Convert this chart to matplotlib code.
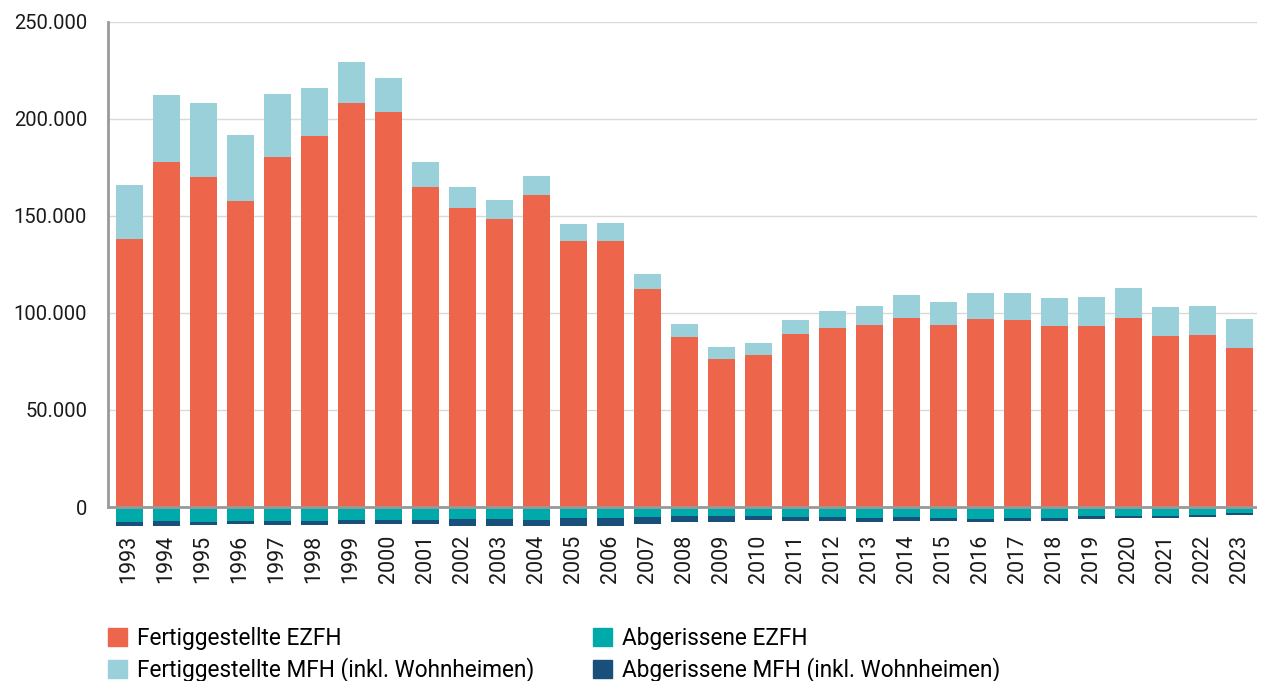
import numpy as np
import matplotlib.pyplot as plt
from matplotlib.patches import Patch
from matplotlib.ticker import FuncFormatter

plt.rcParams['font.family'] = ['Roboto', 'DejaVu Sans']

years = list(range(1993, 2024))
# completed buildings (stacked above zero), in thousands
fert_ezfh = [138, 177.8, 170, 157.7, 180.4, 191.2, 208.2, 203.6, 165, 154.1,
             148.5, 160.8, 137.1, 137.1, 112.4, 87.6, 76.3, 78.4, 89.2, 92.3,
             93.8, 97.4, 93.8, 96.9, 96.4, 93.3, 93.3, 97.4, 88.1, 88.7, 82]
fert_total = [166, 212.4, 208, 191.8, 212.9, 216, 229.4, 221.1, 177.8, 165,
              158.2, 170.6, 145.9, 146.4, 120.1, 94.3, 82.5, 84.5, 96.4, 101,
              103.6, 109.3, 105.7, 110.3, 110.3, 107.7, 108.2, 112.9, 103.1, 103.6, 96.9]
fert_mfh = [t - e for t, e in zip(fert_total, fert_ezfh)]
# demolished buildings (stacked below zero), in thousands
abg_ezfh = [7.9, 7.4, 7.6, 7.0, 7.0, 7.0, 6.5, 6.5, 6.5, 6.0,
            6.0, 6.5, 5.5, 5.5, 5.0, 4.5, 4.5, 4.5, 5.0, 5.0,
            5.5, 5.0, 5.5, 6.0, 5.5, 5.5, 4.5, 4.5, 4.5, 4.0, 2.9]
abg_mfh = [1.7, 2.2, 1.5, 1.5, 2.1, 2.1, 2.1, 2.1, 2.1, 3.6,
           4.1, 4.1, 4.6, 4.1, 3.6, 3.1, 3.1, 2.1, 2.1, 2.1,
           2.1, 2.1, 1.5, 1.5, 1.5, 1.5, 1.5, 1.0, 1.0, 1.0, 1.0]

labels = ["Fertiggestellte EZFH", "Fertiggestellte MFH (inkl. Wohnheimen)",
          "Abgerissene EZFH", "Abgerissene MFH (inkl. Wohnheimen)"]
colors = ["#ED654A", "#9AD0D9", "#00AAAA", "#19507B"]

k = 1000
fe = np.array(fert_ezfh) * k
fm = np.array(fert_mfh) * k
ae = -np.array(abg_ezfh) * k
am = -np.array(abg_mfh) * k

fig = plt.figure(figsize=(12.61, 6.81), dpi=100)
ax = fig.add_axes([0.0856, 0.227, 0.911, 0.741])
x = np.arange(len(years))
w = 0.73
ax.bar(x, fe, w, color=colors[0], zorder=2)
ax.bar(x, fm, w, bottom=fe, color=colors[1], zorder=2)
ax.bar(x, ae, w, color=colors[2], zorder=2)
ax.bar(x, am, w, bottom=ae, color=colors[3], zorder=2)

ax.set_xlim(-0.57, len(years) - 0.53)
ax.set_ylim(-10000, 250000)
ax.set_yticks(np.arange(0, 250001, 50000))
ax.yaxis.set_major_formatter(FuncFormatter(lambda v, p: f"{int(v):,}".replace(",", ".")))
ax.grid(axis='y', color='#d9d9d9', lw=1, zorder=0)
ax.axhline(0, color='#999999', lw=2, zorder=3)
for s in ['top', 'right', 'bottom']:
    ax.spines[s].set_visible(False)
ax.spines['left'].set_bounds(0, 250000)
ax.spines['left'].set_color('#999999')
ax.spines['left'].set_linewidth(2)
ax.set_xticks(x)
ax.set_xticklabels([str(y) for y in years], rotation=90)
ax.tick_params(axis='both', length=0, colors='#1a1a1a')
ax.tick_params(axis='x', pad=6, labelsize=15.5)
ax.tick_params(axis='y', pad=15, labelsize=14.5)

handles = [Patch(color=c) for c in colors]
fig.legend(handles, labels, loc='upper left', bbox_to_anchor=(0.0856, 0.079),
           ncol=2, frameon=False, fontsize=16.3, handlelength=0.84, handleheight=0.84,
           handletextpad=0.45, columnspacing=2.6, labelspacing=0.32,
           borderpad=0, borderaxespad=0)

fig.savefig("out.png", dpi=100)
